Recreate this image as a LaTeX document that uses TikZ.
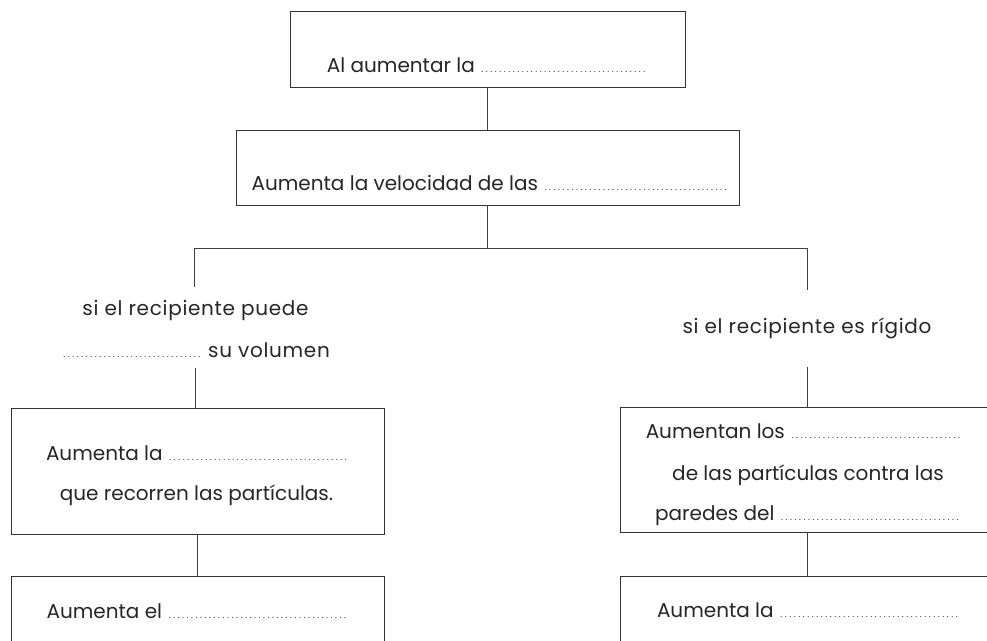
\documentclass[tikz,border=0pt]{standalone}
\usepackage{fontspec}
\setmainfont{Poppins}
\newcommand\blank[1]{\hbox to #1pt{\leaders\hbox to 4.5pt{\hss{\fontsize{9}{9}\selectfont.}\hss}\hfill}}
\begin{document}
\begin{tikzpicture}[x=1pt,y=-1pt,
  box/.style={draw=black!80,line width=0.8pt,rectangle,inner sep=0pt},
  txt/.style={anchor=base,inner sep=0pt,font=\fontsize{20}{20}\selectfont,text=black!85},
  lab/.style={txt,font=\fontsize{20}{20}\selectfont\addfontfeature{LetterSpace=3.5}},
  link/.style={draw=black!75,line width=0.8pt}]
\useasboundingbox (0,0) rectangle (987,640);
\clip (0,0) rectangle (987,640);
% boxes
\node[box,minimum width=395pt,minimum height=76pt] (top) at (487.5,49) {};
\node[box,minimum width=503pt,minimum height=75pt] (vel) at (487.5,167.5) {};
\node[box,minimum width=373pt,minimum height=126pt] (lb1) at (197.5,471) {};
\node[box,minimum width=373pt,minimum height=126pt] (lb2) at (197.5,639) {};
\node[box,minimum width=374pt,minimum height=125pt] (rb1) at (807,469.5) {};
\node[box,minimum width=374pt,minimum height=126pt] (rb2) at (807,639) {};
% texts
\node[txt] (t1) at (487.5,72) {Al aumentar la \blank{168}};
\node[txt] (t2) at (490,190) {Aumenta la velocidad de las \blank{185}};
\node[lab] (ll1) at (195.5,315) {si el recipiente puede};
\node[lab] (ll2) at (196,357) {\blank{140} su volumen};
\node[lab] (rl1) at (807,333) {si el recipiente es rígido};
\node[txt] (a1) at (197,460) {Aumenta la \blank{180}};
\node[txt] (a2) at (196.5,500) {que recorren las partículas.};
\node[txt] (b1) at (197,618) {Aumenta el \blank{180}};
\node[txt] (c1) at (804.5,438) {Aumentan los \blank{173}};
\node[txt] (c2) at (808,480) {de las partículas contra las};
\node[txt] (c3) at (808,520) {paredes del \blank{181}};
\node[txt] (d1) at (808,617) {Aumenta la \blank{180}};
% connectors
\coordinate (hl) at (194,248);
\coordinate (hr) at (807,248);
\coordinate (hm) at (vel.south |- hl);
\coordinate (el) at (194,287);
\coordinate (er) at (807,290);
\coordinate (sl) at (195,368);
\coordinate (sr) at (807,367);
\draw[link] (top.south) -- (vel.north);
\draw[link] (vel.south) -- (hm);
\draw[link] (el) -- (hl) -- (hr) -- (er);
\draw[link] (sl) -- (sl |- lb1.north);
\draw[link] (sr) -- (sr |- rb1.north);
\draw[link] (lb1.south) -- (lb2.north);
\draw[link] (rb1.south) -- (rb2.north);
\end{tikzpicture}
\end{document}
